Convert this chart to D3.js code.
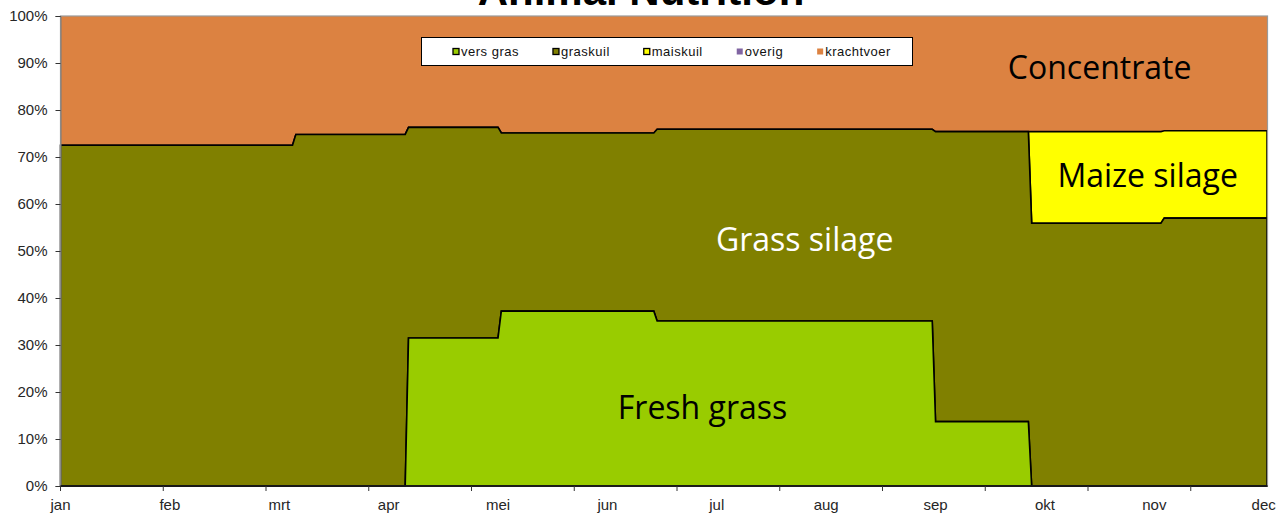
<!DOCTYPE html>
<html>
<head>
<meta charset="utf-8">
<script src="https://cdn.jsdelivr.net/npm/d3@7"></script>
<style>
  body { margin: 0; background: #fff; }
  svg { display: block; }
</style>
</head>
<body>
<div id="chart"></div>
<script>
// feed composition per period (% of ration), daily x axis jan..dec
var segStart = [0, 71, 105, 133, 180, 264, 293, 333];   // first day of each period
var segEnd   = [70, 104, 132, 179, 263, 292, 332, 364];  // last day of each period

var versGras   = [0, 0, 31.5, 37.2, 35.1, 13.7, 0, 0];
var graskuil   = [72.5, 74.8, 44.8, 37.9, 40.8, 61.7, 55.9, 57.0];
var maiskuil   = [0, 0, 0, 0, 0, 0, 19.5, 18.6];
var overig     = [0, 0, 0, 0, 0, 0, 0, 0];
var krachtvoer = [27.5, 25.2, 23.7, 24.9, 24.1, 24.6, 24.6, 24.4];

var keys   = ["vers gras", "graskuil", "maiskuil", "overig", "krachtvoer"];
var colors = ["#99cc00", "#808000", "#ffff00", "#8064a2", "#dc8241"];
var outlined = [true, true, true, false, false];

var monthLabels = ["jan","feb","mrt","apr","mei","jun","jul","aug","sep","okt","nov","dec"];
var labelEvery = 33, tickEvery = 31, lastDay = 364;
var yTicks = [0,10,20,30,40,50,60,70,80,90,100];

// text labels inside the chart: [text, day, percent, colour]
var notes = [
  ["Concentrate", 313.5, 86.6, "#000"],
  ["Maize silage", 328, 63.6, "#000"],
  ["Grass silage", 224.5, 50, "#fff"],
  ["Fresh grass", 193.7, 14.3, "#000"]
];

var w = 1279, h = 513;

var svg = d3.select("#chart").append("svg")
    .attr("width", w)
    .attr("height", h);

var x = d3.scaleLinear().domain([0, lastDay]).range([60.5, 1267]);
var y = d3.scaleLinear().domain([0, 100]).range([486, 16]);

// two rows per period: its first and its last day
var rows = [];
segStart.forEach(function(s, i){
  [s, segEnd[i]].forEach(function(d){
    rows.push({day: d, "vers gras": versGras[i], graskuil: graskuil[i],
               maiskuil: maiskuil[i], overig: overig[i], krachtvoer: krachtvoer[i]});
  });
});

var series = d3.stack().keys(keys)(rows);

var area = d3.area()
    .x(function(d){ return x(d.data.day); })
    .y0(function(d){ return y(d[0]); })
    .y1(function(d){ return y(d[1]); });

// draw top-most first so outlines of the lower series stay visible
var order = [4, 3, 2, 1, 0];
order.forEach(function(i){
  svg.append("path")
    .datum(series[i])
    .attr("d", area)
    .attr("fill", colors[i])
    .attr("stroke", outlined[i] ? "#000" : "none")
    .attr("stroke-width", outlined[i] ? 1.6 : 0)
    .attr("stroke-linejoin", "miter");
});

// plot frame
svg.append("rect")
  .attr("x", 60.5).attr("y", 16)
  .attr("width", 1267.5 - 60.5).attr("height", 470)
  .attr("fill", "none")
  .attr("stroke", "#9a9a9a")
  .attr("stroke-width", 1.2);

// y axis
var yAxis = svg.append("g")
  .attr("transform", "translate(60.5,0)")
  .call(d3.axisLeft(y).tickValues(yTicks).tickSize(5).tickPadding(8)
        .tickFormat(function(d){ return d + "%"; }));
yAxis.select(".domain").attr("stroke", "#7a7a7a");
yAxis.selectAll(".tick line").attr("stroke", "#333");
yAxis.selectAll("text")
  .attr("font-family", "Liberation Sans, Arial, sans-serif")
  .attr("font-size", 15)
  .attr("fill", "#262626");

// x axis: ticks and labels use different intervals
var tickDays = d3.range(0, lastDay, tickEvery);
var labelDays = monthLabels.map(function(m, i){ return i * labelEvery; });

var xg = svg.append("g").attr("transform", "translate(0,486)");
xg.append("line")
  .attr("x1", 60.5).attr("x2", 1267.5)
  .attr("stroke", "#000").attr("stroke-width", 1.5);
xg.selectAll(".xt").data(tickDays).enter().append("line")
  .attr("x1", function(d){ return x(d); })
  .attr("x2", function(d){ return x(d); })
  .attr("y1", 0).attr("y2", 5)
  .attr("stroke", "#333");
xg.selectAll(".xl").data(labelDays).enter().append("text")
  .attr("x", function(d){ return x(d); })
  .attr("y", 24)
  .attr("text-anchor", "middle")
  .attr("font-family", "Liberation Sans, Arial, sans-serif")
  .attr("font-size", 15)
  .attr("fill", "#262626")
  .text(function(d, i){ return monthLabels[i]; });

// title (partly above the window, as in the original)
svg.append("text")
  .attr("x", 641).attr("y", 5)
  .attr("text-anchor", "middle")
  .attr("font-family", "Liberation Sans, Arial, sans-serif")
  .attr("font-weight", "bold")
  .attr("font-size", 42)
  .text("Animal Nutrition");

// legend
var lg = svg.append("g");
lg.append("rect")
  .attr("x", 421.5).attr("y", 37.5)
  .attr("width", 491).attr("height", 28)
  .attr("fill", "#fff").attr("stroke", "#000");
var lx = 453;
keys.forEach(function(k, i){
  lg.append("rect")
    .attr("x", lx).attr("y", 48.5)
    .attr("width", 6).attr("height", 6)
    .attr("fill", colors[i])
    .attr("stroke", outlined[i] ? "#000" : "none")
    .attr("stroke-width", 1.3);
  var t = lg.append("text")
    .attr("x", lx + 8).attr("y", 56)
    .attr("font-family", "Liberation Sans, Arial, sans-serif")
    .attr("font-size", 13)
    .attr("letter-spacing", 0.5)
    .attr("fill", "#111")
    .text(k);
  lx += 8 + t.node().getComputedTextLength() + 34;
});

// annotations
svg.selectAll(".note").data(notes).enter().append("text")
  .attr("x", function(d){ return x(d[1]); })
  .attr("y", function(d){ return y(d[2]); })
  .attr("text-anchor", "middle")
  .attr("font-family", "Open Sans, Noto Sans, sans-serif")
  .attr("font-size", 32)
  .attr("fill", function(d){ return d[3]; })
  .text(function(d){ return d[0]; });
</script>
</body>
</html>
